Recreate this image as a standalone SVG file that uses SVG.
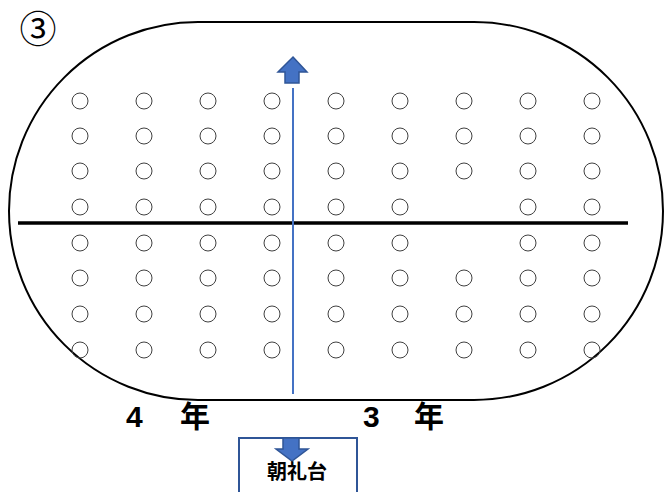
<svg xmlns="http://www.w3.org/2000/svg" width="665" height="492" viewBox="0 0 665 492">
<style>
.dot{fill:none;stroke:#404040;stroke-width:1}
.lbl{font-family:"Liberation Sans","Noto Sans CJK JP",sans-serif;font-weight:bold;fill:#000}
.arr{fill:#4472C4;stroke:#2F5597;stroke-width:1.5}
</style>
<rect width="665" height="492" fill="#fff"/>
<g id="track"><rect x="9" y="22" width="654" height="378" rx="189" ry="189" fill="none" stroke="#000" stroke-width="2"/></g>
<text x="38" y="43" text-anchor="middle" font-family="Noto Sans CJK JP,sans-serif" font-size="37" fill="#000">③</text>
<g id="dots">
<g id="r1"><circle class="dot" cx="80" cy="101" r="8"/><circle class="dot" cx="144" cy="101" r="8"/><circle class="dot" cx="208" cy="101" r="8"/><circle class="dot" cx="272" cy="101" r="8"/><circle class="dot" cx="336" cy="101" r="8"/><circle class="dot" cx="400" cy="101" r="8"/><circle class="dot" cx="464" cy="101" r="8"/><circle class="dot" cx="528" cy="101" r="8"/><circle class="dot" cx="592" cy="101" r="8"/></g>
<g id="r2"><circle class="dot" cx="80" cy="136" r="8"/><circle class="dot" cx="144" cy="136" r="8"/><circle class="dot" cx="208" cy="136" r="8"/><circle class="dot" cx="272" cy="136" r="8"/><circle class="dot" cx="336" cy="136" r="8"/><circle class="dot" cx="400" cy="136" r="8"/><circle class="dot" cx="464" cy="136" r="8"/><circle class="dot" cx="528" cy="136" r="8"/><circle class="dot" cx="592" cy="136" r="8"/></g>
<g id="r3"><circle class="dot" cx="80" cy="171" r="8"/><circle class="dot" cx="144" cy="171" r="8"/><circle class="dot" cx="208" cy="171" r="8"/><circle class="dot" cx="272" cy="171" r="8"/><circle class="dot" cx="336" cy="171" r="8"/><circle class="dot" cx="400" cy="171" r="8"/><circle class="dot" cx="464" cy="171" r="8"/><circle class="dot" cx="528" cy="171" r="8"/><circle class="dot" cx="592" cy="171" r="8"/></g>
<g id="r4"><circle class="dot" cx="80" cy="207" r="8"/><circle class="dot" cx="144" cy="207" r="8"/><circle class="dot" cx="208" cy="207" r="8"/><circle class="dot" cx="272" cy="207" r="8"/><circle class="dot" cx="336" cy="207" r="8"/><circle class="dot" cx="400" cy="207" r="8"/><circle class="dot" cx="528" cy="207" r="8"/><circle class="dot" cx="592" cy="207" r="8"/></g>
<g id="r5"><circle class="dot" cx="80" cy="243" r="8"/><circle class="dot" cx="144" cy="243" r="8"/><circle class="dot" cx="208" cy="243" r="8"/><circle class="dot" cx="272" cy="243" r="8"/><circle class="dot" cx="336" cy="243" r="8"/><circle class="dot" cx="400" cy="243" r="8"/><circle class="dot" cx="528" cy="243" r="8"/><circle class="dot" cx="592" cy="243" r="8"/></g>
<g id="r6"><circle class="dot" cx="80" cy="278" r="8"/><circle class="dot" cx="144" cy="278" r="8"/><circle class="dot" cx="208" cy="278" r="8"/><circle class="dot" cx="272" cy="278" r="8"/><circle class="dot" cx="336" cy="278" r="8"/><circle class="dot" cx="400" cy="278" r="8"/><circle class="dot" cx="464" cy="278" r="8"/><circle class="dot" cx="528" cy="278" r="8"/><circle class="dot" cx="592" cy="278" r="8"/></g>
<g id="r7"><circle class="dot" cx="80" cy="314" r="8"/><circle class="dot" cx="144" cy="314" r="8"/><circle class="dot" cx="208" cy="314" r="8"/><circle class="dot" cx="272" cy="314" r="8"/><circle class="dot" cx="336" cy="314" r="8"/><circle class="dot" cx="400" cy="314" r="8"/><circle class="dot" cx="464" cy="314" r="8"/><circle class="dot" cx="528" cy="314" r="8"/><circle class="dot" cx="592" cy="314" r="8"/></g>
<g id="r8"><circle class="dot" cx="80" cy="350" r="8"/><circle class="dot" cx="144" cy="350" r="8"/><circle class="dot" cx="208" cy="350" r="8"/><circle class="dot" cx="272" cy="350" r="8"/><circle class="dot" cx="336" cy="350" r="8"/><circle class="dot" cx="400" cy="350" r="8"/><circle class="dot" cx="464" cy="350" r="8"/><circle class="dot" cx="528" cy="350" r="8"/><circle class="dot" cx="592" cy="350" r="8"/></g>
</g>
<g id="connectors">
<line x1="18" y1="223" x2="628" y2="223" stroke="#000" stroke-width="3.5"/>
<line x1="293" y1="88" x2="293" y2="394" stroke="#4472C4" stroke-width="2"/>
<path class="arr" d="M293,57 L307,72 L299,72 L299,83 L285,83 L285,72 L278,72 Z"/>
</g>
<text class="lbl" font-size="30" y="427"><tspan x="126">4</tspan><tspan x="180">年</tspan></text>
<text class="lbl" font-size="30" y="427"><tspan x="363">3</tspan><tspan x="414">年</tspan></text>
<g id="stage">
<rect x="239" y="438" width="118" height="60" fill="#fff" stroke="#2F5597" stroke-width="2"/>
<path class="arr" d="M283,438 L299,438 L299,449 L308,449 L292,461 L276,449 L283,449 Z"/>
<text class="lbl" font-size="20" x="297" y="479" text-anchor="middle">朝礼台</text>
</g>
</svg>
